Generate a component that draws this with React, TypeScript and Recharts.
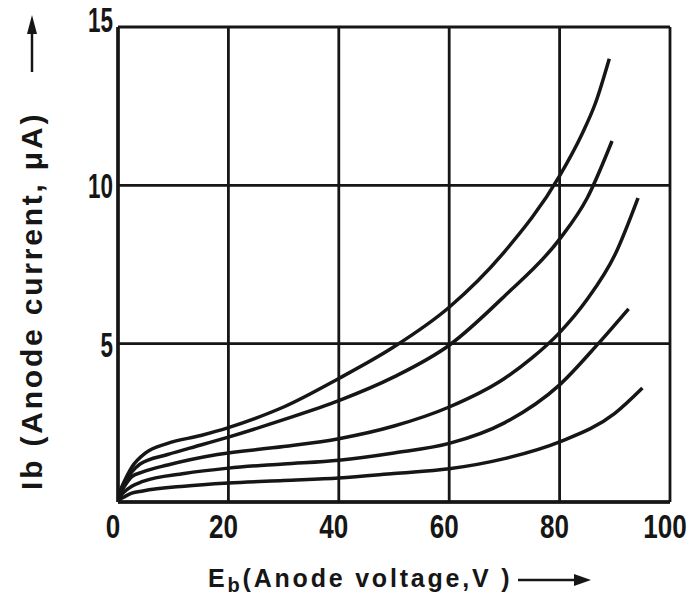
import React from 'react';
import { LineChart, Line, XAxis, YAxis, CartesianGrid } from 'recharts';

// Eb ticks (V) and Ib ticks (uA)
const voltageTicks = [0, 20, 40, 60, 80, 100];
const currentTicks = [5, 10, 15];

// five anode characteristics (V, uA)
const voltageA = [0, 1, 2.5, 5, 9, 15, 20, 25, 30, 40, 50, 60, 70, 80, 84, 86.5, 89];
const currentA = [0.2, 0.6, 1.1, 1.55, 1.85, 2.1, 2.35, 2.65, 3.0, 3.9, 4.9, 6.15, 7.9, 10.3, 11.6, 12.6, 14.0];

const voltageB = [0, 1, 2.5, 4, 9, 15, 20, 30, 40, 50, 60, 70, 80, 85, 89.5];
const currentB = [0.2, 0.55, 0.95, 1.2, 1.5, 1.8, 2.05, 2.6, 3.2, 3.95, 4.95, 6.5, 8.3, 9.6, 11.4];

const voltageC = [0, 1, 2.5, 4.5, 9, 18, 30, 40, 50, 60, 70, 75, 80, 85, 90, 94.2];
const currentC = [0.15, 0.45, 0.8, 0.95, 1.17, 1.5, 1.75, 2.0, 2.4, 3.0, 3.9, 4.55, 5.35, 6.4, 7.8, 9.6];

const voltageD = [0, 1, 2.5, 4.5, 12, 20, 30, 40, 50, 60, 70, 80, 87, 92.5];
const currentD = [0.1, 0.3, 0.5, 0.65, 0.9, 1.07, 1.2, 1.32, 1.55, 1.85, 2.5, 3.7, 5.0, 6.1];

const voltageE = [0, 1, 2.5, 4.5, 12, 20, 30, 40, 50, 60, 70, 80, 90, 95];
const currentE = [0.05, 0.15, 0.28, 0.35, 0.5, 0.6, 0.68, 0.76, 0.9, 1.05, 1.37, 1.9, 2.8, 3.6];

const toPoints = (v: number[], i: number[]) => v.map((x, k) => ({ v: x, i: i[k] }));

const curves = [
  toPoints(voltageA, currentA),
  toPoints(voltageB, currentB),
  toPoints(voltageC, currentC),
  toPoints(voltageD, currentD),
  toPoints(voltageE, currentE),
];

const ink = '#161616';
const font = "'Liberation Sans', Arial, sans-serif";

const XTick = ({ x, y, payload }: any) => {
  const s = String(payload.value);
  return (
    <text
      x={x - 5}
      y={y + 28}
      textAnchor="middle"
      fontFamily={font}
      fontWeight="bold"
      fontSize={34}
      fill={ink}
      textLength={s.length * 14.5}
      lengthAdjust="spacingAndGlyphs"
    >
      {s}
    </text>
  );
};

const YTick = ({ x, y, payload }: any) => {
  const s = String(payload.value);
  // the top label sits a little above its line in the scan
  const shift = payload.value === 15 ? -8 : 0;
  return (
    <text
      x={x + 3}
      y={y + 13 + shift}
      textAnchor="end"
      fontFamily={font}
      fontWeight="bold"
      fontSize={35}
      fill={ink}
      textLength={s.length * 12.5}
      lengthAdjust="spacingAndGlyphs"
    >
      {s}
    </text>
  );
};

const XTitle = () => (
  <g>
    <text x={208} y={587} fontFamily={font} fontWeight="bold" fontSize={25} fill={ink} letterSpacing={2.8}>
      E
      <tspan dy={5} fontSize={20}>b</tspan>
      <tspan dy={-5}>(Anode voltage,V )</tspan>
    </text>
    <line x1={518} y1={580} x2={576} y2={580} stroke={ink} strokeWidth={2.5} />
    <path d="M574,574 L591,580 L574,586 Z" fill={ink} />
  </g>
);

const YTitle = () => (
  <g>
    <text
      transform="translate(42,490) rotate(-90)"
      fontFamily={font}
      fontWeight="bold"
      fontSize={30}
      fill={ink}
      letterSpacing={2.8}
    >
      Ib (Anode current, μA)
    </text>
    <line x1={32} y1={72} x2={32} y2={32} stroke={ink} strokeWidth={2.5} />
    <path d="M27,34 L32,15 L37,34 Z" fill={ink} />
  </g>
);

export default function App() {
  return (
    <div style={{ position: 'absolute', left: 0, top: 0, width: 699, height: 612, background: '#fff' }}>
      <LineChart width={699} height={612} margin={{ top: 27, right: 29, bottom: 0, left: 0 }}>
        <CartesianGrid stroke={ink} strokeWidth={2.8} />
        <XAxis
          type="number"
          dataKey="v"
          domain={[0, 100]}
          ticks={voltageTicks}
          height={110}
          tickLine={false}
          axisLine={{ stroke: ink, strokeWidth: 3.5 }}
          tick={<XTick />}
          allowDataOverflow
        />
        <YAxis
          type="number"
          dataKey="i"
          domain={[0, 15]}
          ticks={currentTicks}
          width={118}
          tickLine={false}
          axisLine={{ stroke: ink, strokeWidth: 3.5 }}
          tick={<YTick />}
          allowDataOverflow
        />
        {curves.map((pts, k) => (
          <Line
            key={k}
            data={pts}
            dataKey="i"
            type="monotone"
            stroke={ink}
            strokeWidth={3.5}
            dot={false}
            isAnimationActive={false}
          />
        ))}
      </LineChart>
      <svg width={699} height={612} style={{ position: 'absolute', left: 0, top: 0, pointerEvents: 'none' }}>
        <XTitle />
        <YTitle />
      </svg>
    </div>
  );
}
